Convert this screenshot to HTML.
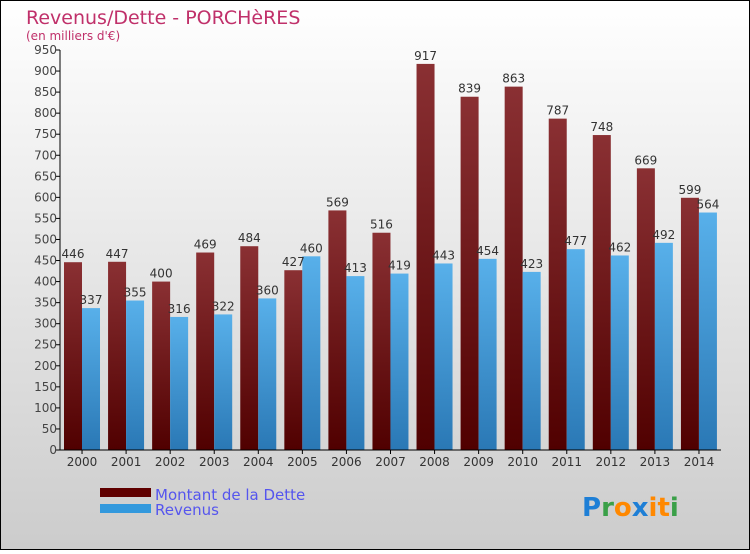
<!DOCTYPE html>
<html><head><meta charset="utf-8"><style>
body{margin:0}
#c{width:750px;height:550px;position:relative;font-family:"DejaVu Sans","Liberation Sans",sans-serif}
</style></head><body>
<div id="c">
<svg id="s" width="750" height="550" xmlns="http://www.w3.org/2000/svg">
<defs>
<linearGradient id="bg" x1="0" y1="0" x2="0" y2="1"><stop offset="0" stop-color="#ffffff"/><stop offset="1" stop-color="#cccccc"/></linearGradient>
<linearGradient id="gd" x1="0" y1="0" x2="0" y2="1"><stop offset="0" stop-color="#8a3033"/><stop offset="1" stop-color="#500000"/></linearGradient>
<linearGradient id="gr" x1="0" y1="0" x2="0" y2="1"><stop offset="0" stop-color="#58b0ea"/><stop offset="1" stop-color="#2a78b5"/></linearGradient>
</defs>
<rect x="0.5" y="0.5" width="749" height="549" fill="url(#bg)" stroke="#000"/>
<text x="26" y="24" font-size="19" fill="#c0306a">Revenus/Dette - PORCHèRES</text>
<text x="26" y="40" font-size="12" fill="#c0306a">(en milliers d'€)</text>
<g id="plot"></g>
<rect x="100" y="488" width="51" height="9" fill="#600000"/>
<rect x="100" y="504" width="51" height="9" fill="#3399dd"/>
<text x="155" y="500" font-size="15" fill="#5555ee">Montant de la Dette</text>
<text x="155" y="515" font-size="15" fill="#5555ee">Revenus</text>
<g font-size="26" font-weight="bold">
<text x="582" y="516"><tspan fill="#1e7fd6">P</tspan><tspan fill="#3aa048">r</tspan><tspan fill="#ff8800">o</tspan><tspan fill="#1e7fd6">x</tspan><tspan fill="#ff8800">i</tspan><tspan fill="#ff8800">t</tspan><tspan fill="#3aa048">i</tspan></text>
</g>
</svg>
</div>
<script>
const years=["2000","2001","2002","2003","2004","2005","2006","2007","2008","2009","2010","2011","2012","2013","2014"];
const dette=[446,447,400,469,484,427,569,516,917,839,863,787,748,669,599];
const revenus=[337,355,316,322,360,460,413,419,443,454,423,477,462,492,564];
const yTicks=[0,50,100,150,200,250,300,350,400,450,500,550,600,650,700,750,800,850,900,950];
const NS="http://www.w3.org/2000/svg";
const g=document.getElementById('plot');
const x0=60,x1=721,yb=450,yt=50,max=950;
const gw=(x1-x0)/years.length;
const y=v=>yb-(v/max)*(yb-yt);
function mk(t,a){const e=document.createElementNS(NS,t);for(const k in a)e.setAttribute(k,a[k]);g.appendChild(e);return e;}
years.forEach((yr,i)=>{
  const gx=x0+i*gw;
  const b1=mk('rect',{x:gx+4,y:y(dette[i]),width:18,height:yb-y(dette[i]),fill:'url(#gd)'});
  
  
  const b2=mk('rect',{x:gx+22,y:y(revenus[i]),width:18,height:yb-y(revenus[i]),fill:'url(#gr)'});
  
  
  const t1=mk('text',{x:gx+13,y:y(dette[i])-4,'font-size':12,fill:'#333','text-anchor':'middle'});
  t1.textContent=dette[i];
  
  
  const t2=mk('text',{x:gx+31,y:y(revenus[i])-4,'font-size':12,fill:'#333','text-anchor':'middle'});
  t2.textContent=revenus[i];
  
  
  const tk=mk('line',{x1:gx+gw/2,x2:gx+gw/2,y1:yb,y2:yb+4,stroke:'#000'});
  
  
  const xl=mk('text',{x:gx+gw/2,y:yb+16,'font-size':12,fill:'#333','text-anchor':'middle'});
  xl.textContent=yr;
  
  
});
yTicks.forEach(v=>{
  const tk=mk('line',{x1:x0-4,x2:x0,y1:y(v),y2:y(v),stroke:'#000'});
  
  
  const l=mk('text',{x:x0-3,y:y(v)+4,'font-size':12,fill:'#444','text-anchor':'end'});
  l.textContent=v;
  
  
});
const ya=mk('line',{x1:x0,x2:x0,y1:yt,y2:yb,stroke:'#000'});


const xa=mk('line',{x1:x0,x2:x1,y1:yb,y2:yb,stroke:'#000'});


</script>
</body></html>
